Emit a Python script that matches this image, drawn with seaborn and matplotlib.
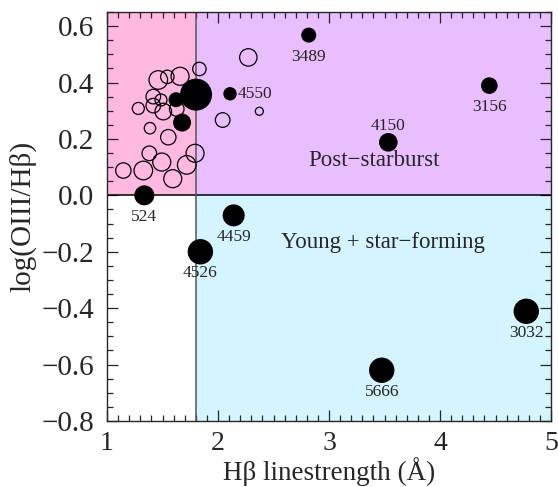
import numpy as np
import pandas as pd
import seaborn as sns
import matplotlib.pyplot as plt

# galaxies with measured lines (filled) -- Hbeta EW, log(OIII/Hb), marker radius
hb_filled = [1.336, 2.141, 1.841, 3.475, 4.777, 2.817, 4.444, 3.534, 2.108, 1.802, 1.622, 1.676]
o3_filled = [0.0, -0.071, -0.200, -0.620, -0.411, 0.568, 0.389, 0.188, 0.360, 0.357, 0.339, 0.258]
r_filled = [10, 11, 12.7, 12.7, 12.7, 7.5, 8.3, 9.3, 6.7, 16, 7.5, 9]
names_filled = ['524', '4459', '4526', '5666', '3032', '3489', '3156', '4150', '4550', '', '', '']

# comparison sample (open circles)
hb_open = [2.273, 1.832, 1.462, 1.543, 1.658, 1.417, 1.486, 1.417, 1.282, 1.507, 1.628,
           2.372, 2.042, 1.387, 1.552, 1.381, 1.793, 1.493, 1.147, 1.327, 1.718, 1.592]
o3_open = [0.489, 0.448, 0.409, 0.420, 0.422, 0.350, 0.338, 0.318, 0.308, 0.297, 0.306,
           0.298, 0.267, 0.238, 0.206, 0.149, 0.149, 0.118, 0.088, 0.088, 0.108, 0.059]
r_open = [8.7, 6.7, 9.3, 6.7, 9, 7.3, 6, 7.3, 6, 8.3, 7.3,
          4, 7.3, 5.7, 7.7, 7.3, 9, 9, 7.7, 9.3, 9.3, 9]

y_ticks = [-0.8, -0.6, -0.4, -0.2, 0.0, 0.2, 0.4, 0.6]
x_ticks = [1, 2, 3, 4, 5]

HB_CUT = 1.8
O3_CUT = 0.0
XLIM = (1, 5)
YLIM = (-0.8, 0.65)

# label offsets in points (dx, dy)
label_offset = {'4150': (0, 12), '4550': (18, 0)}

filled = pd.DataFrame({'hb': hb_filled, 'o3': o3_filled, 'r': r_filled, 'name': names_filled})
opened = pd.DataFrame({'hb': hb_open, 'o3': o3_open, 'r': r_open})

sns.set_style('ticks')
plt.rcParams['font.family'] = ['Liberation Serif', 'DejaVu Serif']

fig = plt.figure(figsize=(5.58, 4.87), dpi=100)
ax = fig.add_axes([0.1918, 0.1355, 0.7957, 0.8399])

# region shading
ax.fill_between([XLIM[0], HB_CUT], O3_CUT, YLIM[1], color='#ffb8e0', lw=0, zorder=0)
ax.fill_between([HB_CUT, XLIM[1]], O3_CUT, YLIM[1], color='#e8beff', lw=0, zorder=0)
ax.fill_between([HB_CUT, XLIM[1]], YLIM[0], O3_CUT, color='#d4f4ff', lw=0, zorder=0)
ax.axhline(O3_CUT, color='black', lw=1.1, zorder=1)
ax.axvline(HB_CUT, color='#555555', lw=1.1, zorder=1)

def px2s(r):
    # radius in pixels -> scatter size in points^2
    return (2 * np.asarray(r) * 0.72) ** 2

sns.scatterplot(data=opened, x='hb', y='o3', s=px2s(opened.r), facecolor='none',
                edgecolor='black', linewidth=0.9, ax=ax, zorder=2, legend=False)
sns.scatterplot(data=filled, x='hb', y='o3', s=px2s(filled.r), color='black',
                edgecolor='none', ax=ax, zorder=3, legend=False)

for _, row in filled.iterrows():
    if not row['name']:
        continue
    dx, dy = label_offset.get(row['name'], (0, -15.5))
    ax.annotate(row['name'], (row.hb, row.o3), xytext=(dx, dy), textcoords='offset points',
                ha='center', va='center', fontsize=12.5, zorder=4)

ax.text(3.405, 0.124, 'Post\u2212starburst', ha='center', va='center', fontsize=16.5)
ax.text(3.486, -0.166, 'Young + star\u2212forming', ha='center', va='center', fontsize=16.5)

ax.set_xlim(*XLIM)
ax.set_ylim(*YLIM)
ax.set_xticks(x_ticks)
ax.set_xticks(np.arange(1, 5.01, 0.1), minor=True)
ax.set_yticks(y_ticks)
ax.set_yticks(np.arange(-0.8, 0.651, 0.05), minor=True)
ax.set_yticklabels([('%.1f' % v).replace('-', '\u2212') for v in y_ticks])
ax.tick_params(which='both', direction='in', top=True, right=True, labelsize=21, width=0.9)
ax.tick_params(which='major', length=8, pad=9)
ax.tick_params(axis='x', which='major', labelsize=20, pad=7)
ax.tick_params(which='minor', length=4)
for sp in ax.spines.values():
    sp.set_linewidth(1.0)
    sp.set_zorder(5)

ax.set_xlabel('H\u03b2 linestrength (\u00c5)', fontsize=19.5, labelpad=1)
ax.set_ylabel('log(OIII/H\u03b2)', fontsize=21, labelpad=4)

fig.savefig('out.png', dpi=100)
